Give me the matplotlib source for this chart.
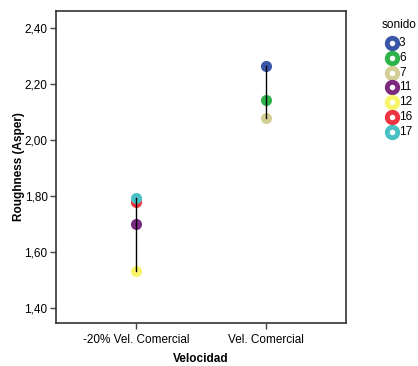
import matplotlib
matplotlib.use("Agg")
import matplotlib.pyplot as plt
from matplotlib.lines import Line2D
from matplotlib.ticker import FuncFormatter

plt.rcParams['font.family'] = ['Liberation Sans', 'DejaVu Sans']

categories = ["-20% Vel. Comercial", "Vel. Comercial"]
sonidos = ["3", "6", "7", "11", "12", "16", "17"]
colors = ["#3a56a8", "#2db34a", "#d4cf96", "#7b2a7f", "#f8f56a", "#ee3440", "#48c0c4"]
# roughness values per sonido: (category index, value)
points = {
    "3": (1, 2.266),
    "6": (1, 2.144),
    "7": (1, 2.080),
    "11": (0, 1.700),
    "12": (0, 1.533),
    "16": (0, 1.778),
    "17": (0, 1.791),
}
yticks = [1.40, 1.60, 1.80, 2.00, 2.20, 2.40]

W, H = 418, 366
fig = plt.figure(figsize=(W / 100, H / 100), dpi=100)
ax = fig.add_axes([56 / W, 1 - 323 / H, 290 / W, 312 / H])

for s, c in zip(sonidos, colors):
    xi, v = points[s]
    ax.plot([xi], [v], 'o', color=c, markersize=8, markeredgewidth=0, zorder=2)

for xi in range(len(categories)):
    vals = [v for (x, v) in points.values() if x == xi]
    ax.plot([xi, xi], [min(vals), max(vals)], color='black', lw=1, zorder=3)

ax.set_xlim(-0.615, 1.615)
ax.set_ylim(1.346, 2.461)
ax.set_xticks(range(len(categories)))
ax.set_xticklabels(categories, fontsize=8.5)
ax.set_yticks(yticks)
ax.yaxis.set_major_formatter(FuncFormatter(lambda v, p: f"{v:.2f}".replace('.', ',')))
ax.tick_params(axis='y', labelsize=8.5, length=4, width=1, pad=2, color='#444444')
ax.tick_params(axis='x', length=4, width=1, pad=4, color='#444444')
for sp in ax.spines.values():
    sp.set_linewidth(1.2)
    sp.set_color('#333333')
ax.set_xlabel("Velocidad", fontsize=8.5, fontweight='bold', labelpad=5)
ax.set_ylabel("Roughness (Asper)", fontsize=8.5, fontweight='bold', labelpad=0)

# legend drawn manually in figure pixel coordinates
fig.text(382 / W, 1 - 25 / H, "sonido", fontsize=8.5, ha='left', va='center')
for i, (s, c) in enumerate(zip(sonidos, colors)):
    yy = 1 - (43 + 14.8 * i) / H
    fig.add_artist(Line2D([392 / W], [yy], transform=fig.transFigure, marker='o',
                          linestyle='none', markersize=7.5, markerfacecolor='white',
                          markeredgecolor=c, markeredgewidth=3.5))
    fig.text(399 / W, yy, s, fontsize=8.5, ha='left', va='center')

fig.savefig("out.png", dpi=100)
